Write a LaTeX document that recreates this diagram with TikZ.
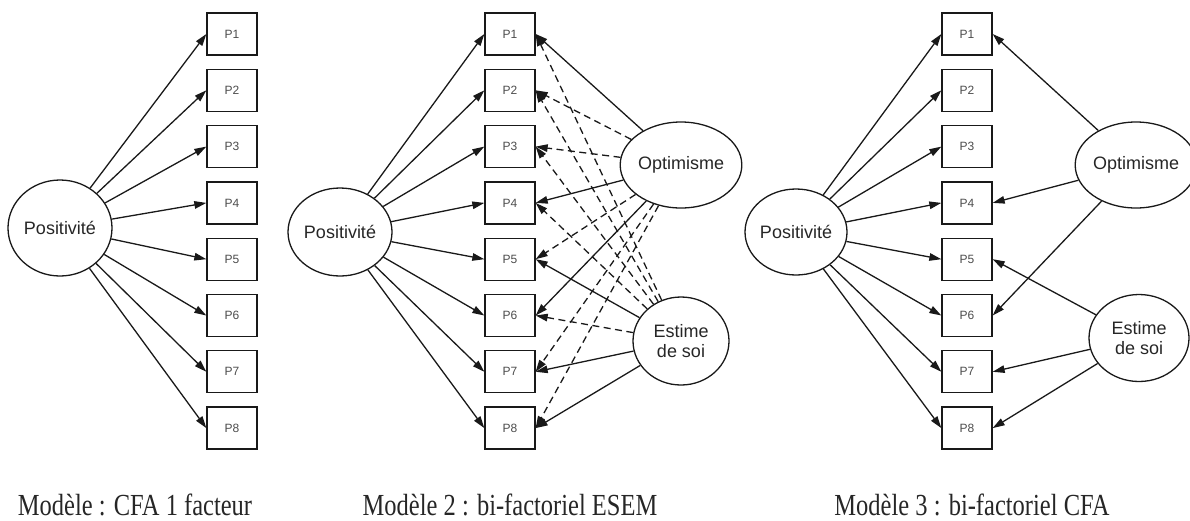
\documentclass[tikz,border=0pt]{standalone}
\usepackage{fontspec}
\setmainfont{Liberation Serif}
\setsansfont{Liberation Sans}
\usetikzlibrary{arrows.meta,shapes.geometric}
\definecolor{linegray}{gray}{0.1}
\definecolor{textgray}{gray}{0.15}
\definecolor{labelgray}{gray}{0.3}
\newcommand{\captext}[1]{\scalebox{1}[1.25]{#1}}

\begin{document}
\begin{tikzpicture}[x=1pt,y=-1pt,
    item/.style={draw=linegray,line width=1.3pt,minimum width=50pt,minimum height=42pt,inner sep=0pt,
      font=\sffamily\fontsize{12}{12}\selectfont,text=labelgray},
    factor/.style={ellipse,draw=linegray,line width=1.3pt,inner sep=0pt,align=center,
      font=\sffamily\fontsize{18}{20}\selectfont,text=textgray},
    load/.style={-{Triangle[length=12pt,width=7.5pt]},line width=1.3pt,draw=linegray},
    cross/.style={load,dash pattern=on 7pt off 4.5pt},
    caption/.style={anchor=base,font=\rmfamily\fontsize{24.5}{24.5}\selectfont,text=textgray}]
  \useasboundingbox (0,0) rectangle (1190,520);
  % observed items P1..P8, one column per model
  \foreach \i in {1,...,8} {
    \node[item] (pa\i) at (232,{34+56.3*(\i-1)}) {P\i};
    \node[item] (pb\i) at (510,{34+56.3*(\i-1)}) {P\i};
    \node[item] (pc\i) at (967,{34+56.3*(\i-1)}) {P\i};
  }
  % latent factors
  \node[factor,minimum width=104pt,minimum height=96pt] (posa) at (60,228) {Positivité};
  \node[factor,minimum width=104pt,minimum height=88pt] (posb) at (340,232) {Positivité};
  \node[factor,minimum width=96pt,minimum height=86pt] (optb) at (681,165) {Optimisme};
  \node[factor,minimum width=96pt,minimum height=88pt] (estb) at (681,341) {Estime\\de soi};
  \node[factor,minimum width=102pt,minimum height=86pt] (posc) at (796,232) {Positivité};
  \node[factor,minimum width=98pt,minimum height=86pt] (optc) at (1136,165) {Optimisme};
  \node[factor,minimum width=100pt,minimum height=87pt] (estc) at (1139,338) {Estime\\de soi};
  % general factor loadings
  \foreach \i in {1,...,8} {
    \draw[load] (posa) -- (pa\i.west);
    \draw[load] (posb) -- (pb\i.west);
    \draw[load] (posc) -- (pc\i.west);
  }
  % specific factors, ESEM
  \foreach \i in {1,4,6} \draw[load] (optb) -- (pb\i.east);
  \foreach \i in {5,7,8} \draw[load] (estb) -- (pb\i.east);
  \foreach \i in {2,3,5,7,8} \draw[cross] (optb) -- (pb\i.east);
  \foreach \i in {1,2,3,4,6} \draw[cross] (estb) -- (pb\i.east);
  % specific factors, CFA
  \foreach \i in {1,4,6} \draw[load] (optc) -- (pc\i.east);
  \foreach \i in {5,7,8} \draw[load] (estc) -- (pc\i.east);
  % captions
  \node[caption] (capa) at (135,515) {\captext{Modèle : CFA 1 facteur}};
  \node[caption] (capb) at (510,515) {\captext{Modèle 2 : bi-factoriel ESEM}};
  \node[caption] (capc) at (972,515) {\captext{Modèle 3 : bi-factoriel CFA}};
\end{tikzpicture}
\end{document}
